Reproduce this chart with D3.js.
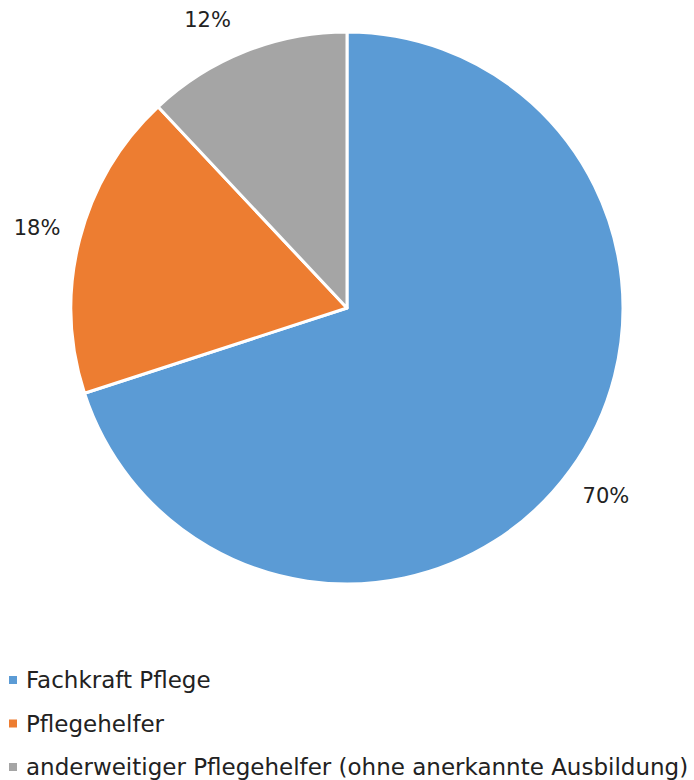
<!DOCTYPE html>
<html>
<head>
<meta charset="utf-8">
<script src="https://cdn.jsdelivr.net/npm/d3@7"></script>
<style>
  body { margin: 0; background: #fff; }
  svg { display: block; }
</style>
</head>
<body>
<script>
const categories = ["Fachkraft Pflege", "Pflegehelfer", "anderweitiger Pflegehelfer (ohne anerkannte Ausbildung)"];
const values = [70, 18, 12];
const colors = ["#5b9bd5", "#ed7d31", "#a5a5a5"];

const width = 694;
const height = 780;
const cx = 347;
const cy = 308;
const radius = 276;
const labelRadius = 320;
const font = "'Century Gothic', 'DejaVu Sans', sans-serif";

let svg = d3.select("body")
    .append("svg")
    .attr("width", width)
    .attr("height", height);

const data = categories.map((c, i) => ({ name: c, value: values[i], color: colors[i] }));

const pie = d3.pie().sort(null).value(d => d.value);
const arc = d3.arc().innerRadius(0).outerRadius(radius);
const labelArc = d3.arc().innerRadius(labelRadius).outerRadius(labelRadius);

let g = svg.append("g").attr("transform", `translate(${cx}, ${cy})`);

//slices
g.selectAll("path")
    .data(pie(data))
    .enter()
    .append("path")
    .attr("d", arc)
    .attr("fill", d => d.data.color)
    .attr("stroke", "#fff")
    .attr("stroke-width", 3)
    .attr("stroke-linejoin", "round");

//labels - keep them inside the top edge, sliding along the circle like excel does
const minY = 20 - cy;
function labelPos(d) {
    let [x, y] = labelArc.centroid(d);
    if (y < minY) {
        y = minY;
        x = Math.sign(x) * Math.sqrt(labelRadius * labelRadius - y * y);
    }
    return [x, y];
}

g.selectAll("text")
    .data(pie(data))
    .enter()
    .append("text")
    .attr("transform", d => `translate(${labelPos(d)})`)
    .attr("text-anchor", "middle")
    .attr("dominant-baseline", "central")
    .attr("font-family", font)
    .attr("font-size", 21)
    .attr("fill", "#222")
    .text(d => d.data.value + "%");

//legend
const legendY = d3.scalePoint().domain(categories).range([680, 767]);

let legend = svg.append("g")
    .selectAll("g")
    .data(data)
    .enter()
    .append("g")
    .attr("transform", d => `translate(0, ${legendY(d.name)})`);

legend.append("rect")
    .attr("x", 9)
    .attr("y", -4)
    .attr("width", 8)
    .attr("height", 8)
    .attr("fill", d => d.color);

legend.append("text")
    .attr("x", 26)
    .attr("dominant-baseline", "central")
    .attr("font-family", font)
    .attr("font-size", 23)
    .attr("fill", "#222")
    .text(d => d.name);
</script>
</body>
</html>
